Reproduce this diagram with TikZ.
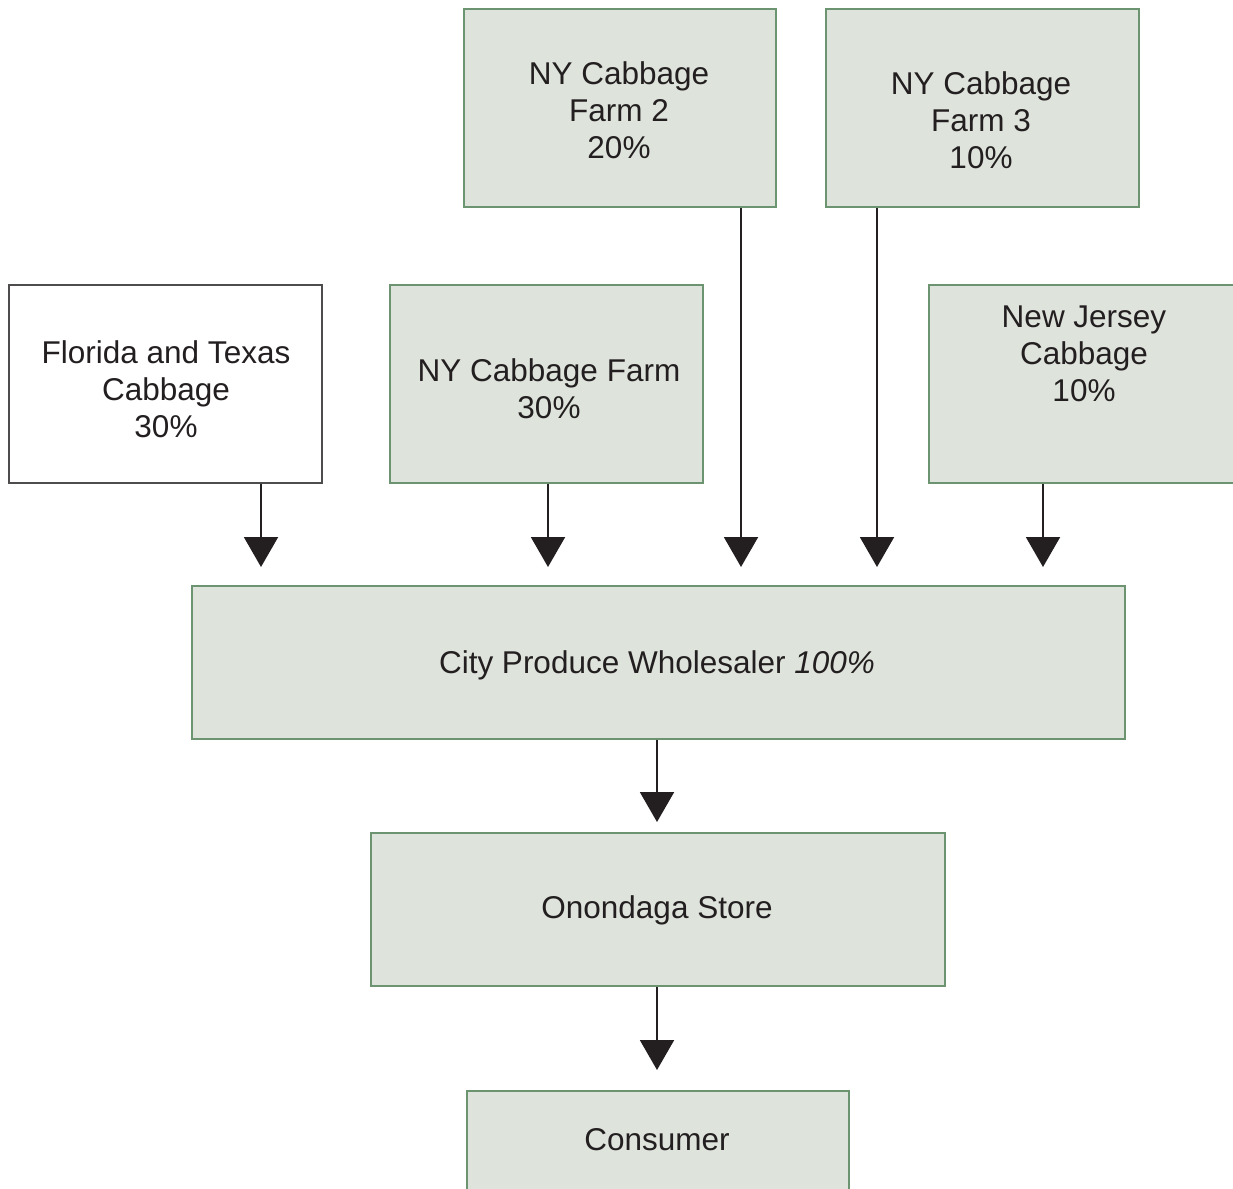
\documentclass[tikz,border=0pt]{standalone}
\usepackage{fontspec}
\setmainfont{Liberation Sans}
\usetikzlibrary{arrows.meta}
\definecolor{boxfill}{RGB}{222,227,220}
\definecolor{boxline}{RGB}{108,148,112}
\definecolor{ink}{RGB}{35,31,32}
\tikzset{
  box/.style={draw=boxline, fill=boxfill, line width=1.8pt, inner sep=0pt, anchor=north west},
  plainbox/.style={draw=ink!80, fill=white, line width=1.8pt, inner sep=0pt, anchor=north west},
  txt/.style={text=ink, align=center, font=\fontsize{31.5}{37}\selectfont, inner sep=0pt},
  flow/.style={draw=ink, line width=2pt, -{Triangle[width=34pt,length=30pt]}},
}
\begin{document}
\begin{tikzpicture}[x=1pt,y=-1pt]
\useasboundingbox (0,0) rectangle (1233,1188);
\clip (0,0) rectangle (1233,1188);
% boxes
\node[box, minimum width=312pt, minimum height=198pt] (farmtwo) at (463,8) {};
\node[box, minimum width=313pt, minimum height=198pt] (farmthree) at (825,8) {};
\node[plainbox, minimum width=313pt, minimum height=198pt] (flo) at (8,284) {};
\node[box, minimum width=313pt, minimum height=198pt] (farmone) at (389,284) {};
\node[box, minimum width=313pt, minimum height=198pt] (nj) at (928,284) {};
\node[box, minimum width=933pt, minimum height=153pt] (city) at (191,585) {};
\node[box, minimum width=574pt, minimum height=153pt] (store) at (370,832) {};
\node[box, minimum width=382pt, minimum height=120pt] (cons) at (466,1090) {};
% texts
\node[txt] (tfarmtwo) at (619,110) {NY Cabbage\\Farm 2\\20\%};
\node[txt] (tfarmthree) at (981,120) {NY Cabbage\\Farm 3\\10\%};
\node[txt] (tflo) at (166,389) {Florida and Texas\\Cabbage\\30\%};
\node[txt] (tfarmone) at (549,389) {NY Cabbage Farm\\30\%};
\node[txt] (tnj) at (1084,354) {New Jersey\\Cabbage\\10\%};
\node[txt] (tcity) at (657,665) {City Produce Wholesaler \textit{100\%}};
\node[txt] (tstore) at (657,910) {Onondaga Store};
\node[txt] (tcons) at (657,1140) {Consumer};
% connector x positions
\coordinate (xa) at (261,0);
\coordinate (xb) at (548,0);
\coordinate (xc) at (741,0);
\coordinate (xd) at (877,0);
\coordinate (xe) at (1043,0);
\coordinate (xf) at (657,0);
% connectors
\draw[flow, shorten >=18pt] (flo.south -| xa) -- (city.north -| xa);
\draw[flow, shorten >=18pt] (farmone.south -| xb) -- (city.north -| xb);
\draw[flow, shorten >=18pt] (farmtwo.south -| xc) -- (city.north -| xc);
\draw[flow, shorten >=18pt] (farmthree.south -| xd) -- (city.north -| xd);
\draw[flow, shorten >=18pt] (nj.south -| xe) -- (city.north -| xe);
\draw[flow, shorten >=10pt] (city.south -| xf) -- (store.north -| xf);
\draw[flow, shorten >=20pt] (store.south -| xf) -- (cons.north -| xf);
\end{tikzpicture}
\end{document}
